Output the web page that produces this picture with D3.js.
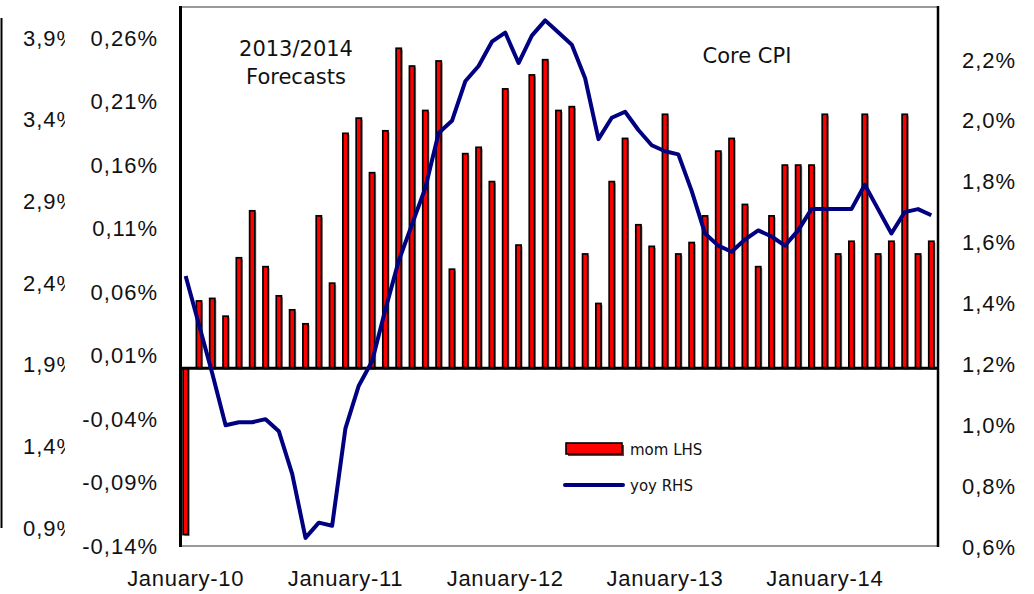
<!DOCTYPE html>
<html>
  <head>
    <meta charset="utf-8">
    <title>Core CPI</title>
    <script src="https://cdn.jsdelivr.net/npm/d3@7"></script>
    <style>
      body { margin: 0; background: #fff; }
      svg { display: block; font-family: "DejaVu Sans", sans-serif; }
      .tick text { font-size: 22px; fill: #111; letter-spacing: 1px; }
      .xaxis .tick text { letter-spacing: 0.7px; }
      .legend text { font-size: 15px; fill: #111; }
      .note { font-size: 21px; fill: #111; }
    </style>
  </head>
  <body>
    <svg id="chart" width="1034" height="594"></svg>
    <script>
      // data: Jan-10 to Sep-14
      var months = d3.timeMonth.range(new Date(2010, 0, 1), new Date(2014, 9, 1));
      var mom = [-0.131, 0.053, 0.055, 0.041, 0.087, 0.124, 0.080, 0.057, 0.046, 0.035, 0.120, 0.067,
                 0.185, 0.197, 0.154, 0.187, 0.252, 0.238, 0.203, 0.242, 0.078, 0.169, 0.174, 0.147,
                 0.220, 0.097, 0.231, 0.243, 0.203, 0.206, 0.090, 0.051, 0.147, 0.181, 0.113, 0.096,
                 0.200, 0.090, 0.099, 0.120, 0.171, 0.181, 0.129, 0.080, 0.120, 0.160, 0.160, 0.160,
                 0.200, 0.090, 0.100, 0.200, 0.090, 0.100, 0.200, 0.090, 0.100];
      var yoy = [1.49, 1.33, 1.17, 1.00, 1.01, 1.01, 1.02, 0.98, 0.84, 0.63, 0.68, 0.67,
                 0.99, 1.13, 1.21, 1.38, 1.54, 1.66, 1.78, 1.96, 2.00, 2.13, 2.18, 2.26,
                 2.29, 2.19, 2.28, 2.33, 2.29, 2.25, 2.14, 1.94, 2.01, 2.03, 1.97, 1.92,
                 1.90, 1.89, 1.77, 1.63, 1.59, 1.57, 1.61, 1.64, 1.62, 1.59, 1.64, 1.71,
                 1.71, 1.71, 1.71, 1.79, 1.71, 1.63, 1.70, 1.71, 1.69];
      var momTicks = [-0.14, -0.09, -0.04, 0.01, 0.06, 0.11, 0.16, 0.21, 0.26];
      var yoyTicks = [0.6, 0.8, 1.0, 1.2, 1.4, 1.6, 1.8, 2.0, 2.2];
      var cutTicks = [0.9, 1.4, 1.9, 2.4, 2.9, 3.4, 3.9];
      var dateTicks = ["January-10", "January-11", "January-12", "January-13", "January-14"];

      var locale = d3.formatLocale({decimal: ",", thousands: ".", grouping: [3], currency: ["", ""], minus: "-"});
      var f2 = locale.format(".2f"), f1 = locale.format(".1f");

      var svg = d3.select("#chart");
      var plotL = 179, plotR = 938, plotT = 7, plotB = 546;

      var x = d3.scaleBand().domain(months).range([plotL, plotR]);
      var yL = d3.scaleLinear().domain([-0.14, 0.2845]).range([plotB, plotT]);
      var yR = d3.scaleLinear().domain([0.6, 2.374]).range([547, plotT]);
      var yCut = d3.scaleLinear().domain([0.9, 3.9]).range([528, 38]);

      // cropped axis of the neighbouring chart
      svg.append("clipPath").attr("id", "cut")
        .append("rect").attr("x", 0).attr("y", 0).attr("width", 65).attr("height", 594);
      var cut = svg.append("g").attr("clip-path", "url(#cut)");
      cut.append("g")
        .call(d3.axisRight(yCut).tickValues(cutTicks).tickSize(0).tickPadding(23)
          .tickFormat(function(d) { return f1(d) + "%"; }))
        .call(function(g) { g.select(".domain").remove(); });
      svg.append("line").attr("x1", 1.5).attr("x2", 1.5).attr("y1", 18).attr("y2", 528)
        .attr("stroke", "#000").attr("stroke-width", 2);

      // frame
      svg.append("line").attr("x1", plotL).attr("x2", plotR).attr("y1", plotT).attr("y2", plotT)
        .attr("stroke", "#999").attr("stroke-width", 2);
      svg.append("line").attr("x1", plotL).attr("x2", plotR).attr("y1", plotB).attr("y2", plotB)
        .attr("stroke", "#999").attr("stroke-width", 2);

      // bars
      var bw = 5.2, sh = 1.5;
      var bars = svg.append("g");
      bars.selectAll(".shadow")
        .data(mom)
        .enter().append("rect")
          .attr("class", "shadow")
          .attr("x", function(d, i) { return x(months[i]) + x.bandwidth() / 2 - bw / 2 + sh; })
          .attr("y", function(d) { return Math.min(yL(d), yL(0)) + sh; })
          .attr("width", bw)
          .attr("height", function(d) { return Math.abs(yL(d) - yL(0)); })
          .attr("fill", "#999");
      bars.selectAll(".bar")
        .data(mom)
        .enter().append("rect")
          .attr("class", "bar")
          .attr("x", function(d, i) { return x(months[i]) + x.bandwidth() / 2 - bw / 2; })
          .attr("y", function(d) { return Math.min(yL(d), yL(0)); })
          .attr("width", bw)
          .attr("height", function(d) { return Math.abs(yL(d) - yL(0)); })
          .attr("fill", "#ff0000")
          .attr("stroke", "#000")
          .attr("stroke-width", 1.7);

      // zero line
      svg.append("line").attr("x1", plotL).attr("x2", plotR).attr("y1", yL(0)).attr("y2", yL(0))
        .attr("stroke", "#000").attr("stroke-width", 3);

      // yoy line
      var line = d3.line()
        .x(function(d, i) { return x(months[i]) + x.bandwidth() / 2; })
        .y(function(d) { return yR(d); });
      svg.append("path")
        .datum(yoy)
        .attr("d", line)
        .attr("fill", "none")
        .attr("stroke", "#000080")
        .attr("stroke-width", 4)
        .attr("stroke-linejoin", "round");

      // side borders
      svg.append("line").attr("x1", 180.5).attr("x2", 180.5).attr("y1", plotT - 1).attr("y2", plotB + 1)
        .attr("stroke", "#000").attr("stroke-width", 3);
      svg.append("line").attr("x1", plotR).attr("x2", plotR).attr("y1", plotT - 1).attr("y2", plotB + 1)
        .attr("stroke", "#000").attr("stroke-width", 2.5);

      // axes
      svg.append("g")
        .attr("transform", "translate(180,0)")
        .call(d3.axisLeft(yL).tickValues(momTicks).tickSize(0).tickPadding(22)
          .tickFormat(function(d) { return f2(d) + "%"; }))
        .call(function(g) { g.select(".domain").remove(); });
      svg.append("g")
        .attr("transform", "translate(" + plotR + ",0)")
        .call(d3.axisRight(yR).tickValues(yoyTicks).tickSize(0).tickPadding(24)
          .tickFormat(function(d) { return f1(d) + "%"; }))
        .call(function(g) { g.select(".domain").remove(); });
      var januaries = months.filter(function(d) { return d.getMonth() === 0; });
      svg.append("g")
        .attr("class", "xaxis")
        .attr("transform", "translate(0," + plotB + ")")
        .call(d3.axisBottom(x).tickValues(januaries).tickSize(0).tickPadding(24)
          .tickFormat(function(d, i) { return dateTicks[i]; }))
        .call(function(g) { g.select(".domain").remove(); });

      // notes
      svg.append("text").attr("class", "note").attr("x", 296).attr("y", 56)
        .attr("text-anchor", "middle").text("2013/2014");
      svg.append("text").attr("class", "note").attr("x", 296).attr("y", 84)
        .attr("text-anchor", "middle").text("Forecasts");
      svg.append("text").attr("class", "note").attr("x", 747).attr("y", 63)
        .attr("text-anchor", "middle").text("Core CPI");

      // legend
      var legend = svg.append("g").attr("class", "legend");
      legend.append("rect").attr("x", 568).attr("y", 445).attr("width", 56).attr("height", 11)
        .attr("fill", "#ff0000");
      legend.append("rect").attr("x", 566).attr("y", 443).attr("width", 56).attr("height", 11)
        .attr("fill", "#ff0000").attr("stroke", "#000").attr("stroke-width", 1.6);
      legend.append("text").attr("x", 630).attr("y", 455).text("mom LHS");
      legend.append("line").attr("x1", 565).attr("x2", 623).attr("y1", 485).attr("y2", 485)
        .attr("stroke", "#000080").attr("stroke-width", 4).attr("stroke-linecap", "round");
      legend.append("text").attr("x", 630).attr("y", 491).text("yoy RHS");
    </script>
  </body>
</html>
